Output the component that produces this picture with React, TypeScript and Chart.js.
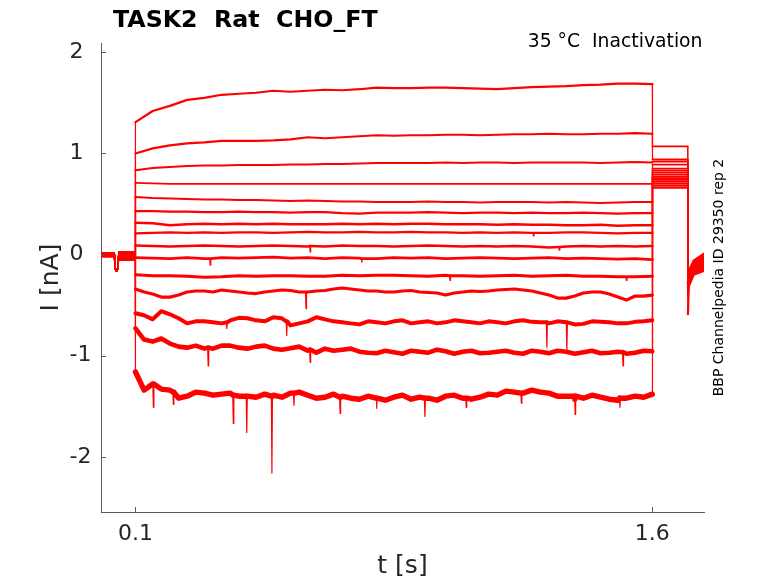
import { useEffect, useRef } from "react";
import { Chart, registerables } from "chart.js";

Chart.register(...registerables);

// ---------- data ----------
const xTickValues = [0.1, 1.6];
const yTickValues = [-2, -1, 0, 1, 2];

// holding period before the step (shared by all sweeps)
const preTimes = [0, 0.039, 0.041, 0.049, 0.051, 0.0995];
const preValues = [0.0, 0.0, -0.15, -0.15, -0.012, -0.012];
// visual thickness of the noise band in each holding segment
const preBand = [5, 1.5, 3, 1.5, 9.5];

// step period samples
const stepTimes = [0.10, 0.15, 0.20, 0.25, 0.30, 0.35, 0.40, 0.45, 0.50, 0.55, 0.60, 0.65, 0.70, 0.75, 0.80, 0.85, 0.90, 0.95, 1.00, 1.05, 1.10, 1.15, 1.20, 1.25, 1.30, 1.35, 1.40, 1.45, 1.50, 1.55, 1.60];
// extra in-between samples for the noisier sweeps
const midTimes = [0.125, 0.175, 0.225, 0.275, 0.325, 0.375, 0.425, 0.475, 0.525, 0.575, 0.625, 0.675, 0.725, 0.775, 0.825, 0.875, 0.925, 0.975, 1.025, 1.075, 1.125, 1.175, 1.225, 1.275, 1.325, 1.375, 1.425, 1.475, 1.525, 1.575];

const sweep01 = [1.31, 1.42, 1.47, 1.53, 1.55, 1.58, 1.59, 1.60, 1.62, 1.61, 1.62, 1.63, 1.625, 1.635, 1.65, 1.645, 1.645, 1.65, 1.65, 1.645, 1.64, 1.635, 1.645, 1.655, 1.66, 1.665, 1.675, 1.68, 1.69, 1.69, 1.685];
const sweep02 = [1.00, 1.05, 1.08, 1.10, 1.11, 1.125, 1.125, 1.125, 1.13, 1.14, 1.16, 1.15, 1.16, 1.17, 1.18, 1.175, 1.18, 1.18, 1.185, 1.185, 1.18, 1.185, 1.19, 1.19, 1.195, 1.19, 1.19, 1.195, 1.195, 1.20, 1.195];
const sweep03 = [0.835, 0.855, 0.865, 0.875, 0.88, 0.88, 0.885, 0.885, 0.885, 0.89, 0.89, 0.895, 0.895, 0.90, 0.905, 0.905, 0.905, 0.905, 0.91, 0.905, 0.91, 0.91, 0.905, 0.91, 0.91, 0.91, 0.91, 0.905, 0.91, 0.915, 0.91];
const sweep04 = [0.71, 0.705, 0.70, 0.70, 0.70, 0.70, 0.70, 0.70, 0.70, 0.70, 0.70, 0.70, 0.70, 0.70, 0.70, 0.70, 0.70, 0.70, 0.70, 0.70, 0.70, 0.70, 0.70, 0.70, 0.70, 0.70, 0.70, 0.70, 0.70, 0.70, 0.70];
const sweep05 = [0.57, 0.56, 0.555, 0.55, 0.545, 0.545, 0.54, 0.54, 0.535, 0.53, 0.535, 0.53, 0.525, 0.525, 0.52, 0.52, 0.52, 0.525, 0.52, 0.52, 0.515, 0.52, 0.52, 0.52, 0.515, 0.52, 0.515, 0.51, 0.515, 0.52, 0.52];
const sweep06 = [0.43, 0.43, 0.425, 0.425, 0.42, 0.42, 0.425, 0.42, 0.42, 0.415, 0.42, 0.42, 0.41, 0.405, 0.415, 0.415, 0.415, 0.42, 0.415, 0.41, 0.415, 0.415, 0.41, 0.415, 0.41, 0.41, 0.415, 0.41, 0.405, 0.41, 0.41];
const sweep07 = [0.315, 0.31, 0.29, 0.30, 0.305, 0.30, 0.305, 0.30, 0.305, 0.30, 0.30, 0.30, 0.305, 0.30, 0.305, 0.30, 0.305, 0.305, 0.30, 0.30, 0.30, 0.295, 0.30, 0.295, 0.295, 0.29, 0.29, 0.295, 0.285, 0.29, 0.29];
const sweep08 = [0.21, 0.215, 0.22, 0.215, 0.22, 0.215, 0.22, 0.22, 0.215, 0.22, 0.225, 0.22, 0.22, 0.225, 0.22, 0.22, 0.225, 0.22, 0.22, 0.215, 0.22, 0.215, 0.22, 0.215, 0.215, 0.22, 0.22, 0.215, 0.21, 0.215, 0.215];
const sweep09 = [0.09, 0.085, 0.08, 0.085, 0.09, 0.085, 0.08, 0.085, 0.09, 0.085, 0.08, 0.08, 0.09, 0.085, 0.085, 0.08, 0.085, 0.09, 0.085, 0.08, 0.085, 0.08, 0.085, 0.08, 0.07, 0.08, 0.085, 0.08, 0.085, 0.08, 0.085];
const sweep10 = [-0.03, -0.035, -0.04, -0.03, -0.04, -0.03, -0.035, -0.03, -0.025, -0.035, -0.03, -0.04, -0.03, -0.035, -0.04, -0.03, -0.035, -0.03, -0.04, -0.035, -0.03, -0.035, -0.04, -0.035, -0.03, -0.04, -0.035, -0.04, -0.045, -0.04, -0.05];
const sweep11 = [-0.20, -0.21, -0.21, -0.215, -0.225, -0.22, -0.21, -0.215, -0.21, -0.21, -0.215, -0.215, -0.205, -0.21, -0.205, -0.205, -0.21, -0.215, -0.205, -0.21, -0.215, -0.21, -0.205, -0.215, -0.21, -0.205, -0.215, -0.215, -0.22, -0.22, -0.215];
const sweep12 = [-0.34, -0.39, -0.42, -0.37, -0.36, -0.35, -0.37, -0.385, -0.36, -0.355, -0.37, -0.355, -0.33, -0.35, -0.36, -0.37, -0.355, -0.375, -0.40, -0.37, -0.365, -0.35, -0.34, -0.36, -0.40, -0.43, -0.38, -0.37, -0.42, -0.41, -0.40];
const sweep13 = [-0.58, -0.64, -0.59, -0.68, -0.66, -0.68, -0.625, -0.65, -0.62, -0.70, -0.66, -0.64, -0.67, -0.69, -0.67, -0.66, -0.68, -0.66, -0.67, -0.66, -0.68, -0.67, -0.66, -0.665, -0.68, -0.67, -0.685, -0.665, -0.68, -0.665, -0.65];
const sweep14 = [-0.73, -0.86, -0.88, -0.92, -0.93, -0.90, -0.92, -0.91, -0.93, -0.925, -0.95, -0.93, -0.94, -0.96, -0.975, -0.965, -0.95, -0.97, -0.955, -0.96, -0.975, -0.96, -0.97, -0.95, -0.975, -0.96, -0.965, -0.975, -0.96, -0.97, -0.955];
const sweep15 = [-1.16, -1.28, -1.34, -1.40, -1.37, -1.38, -1.40, -1.41, -1.39, -1.37, -1.39, -1.41, -1.40, -1.43, -1.42, -1.41, -1.43, -1.42, -1.40, -1.42, -1.41, -1.39, -1.36, -1.34, -1.37, -1.40, -1.42, -1.41, -1.44, -1.40, -1.38];

// in-between samples (at midTimes) for sweeps 12–15
const mid12 = [-0.37, -0.42, -0.40, -0.36, -0.37, -0.36, -0.38, -0.37, -0.35, -0.37, -0.36, -0.34, -0.34, -0.36, -0.37, -0.36, -0.37, -0.38, -0.38, -0.36, -0.36, -0.345, -0.35, -0.38, -0.43, -0.41, -0.37, -0.39, -0.45, -0.41];
const mid13 = [-0.60, -0.56, -0.63, -0.66, -0.67, -0.65, -0.63, -0.66, -0.63, -0.68, -0.62, -0.66, -0.68, -0.66, -0.68, -0.65, -0.67, -0.68, -0.65, -0.67, -0.66, -0.68, -0.65, -0.67, -0.66, -0.69, -0.66, -0.67, -0.68, -0.66];
const mid14 = [-0.84, -0.83, -0.91, -0.90, -0.93, -0.90, -0.93, -0.90, -0.94, -0.91, -0.97, -0.95, -0.93, -0.97, -0.95, -0.98, -0.96, -0.94, -0.98, -0.95, -0.97, -0.95, -0.98, -0.96, -0.95, -0.98, -0.95, -0.97, -0.98, -0.95];
const mid15 = [-1.34, -1.33, -1.42, -1.36, -1.39, -1.37, -1.40, -1.38, -1.41, -1.36, -1.42, -1.38, -1.42, -1.40, -1.44, -1.39, -1.41, -1.44, -1.39, -1.43, -1.38, -1.35, -1.37, -1.36, -1.40, -1.43, -1.39, -1.43, -1.42, -1.41];

// brief downward spikes: [time, surrounding level, tip]
const spikes08 = [[1.255, 0.215, 0.185]];
const spikes09 = [[0.607, 0.085, 0.025], [1.33, 0.075, 0.045]];
const spikes10 = [[0.317, -0.04, -0.105], [0.757, -0.04, -0.075]];
const spikes11 = [[1.013, -0.21, -0.255], [1.525, -0.22, -0.255]];
const spikes12 = [[0.595, -0.37, -0.535]];
const spikes13 = [[0.365, -0.67, -0.73], [0.539, -0.66, -0.80], [1.294, -0.67, -0.915], [1.352, -0.67, -0.95]];
const spikes14 = [[0.311, -0.92, -1.10], [0.607, -0.94, -1.065], [1.515, -0.965, -1.10]];
const spikes15 = [[0.152, -1.28, -1.51], [0.21, -1.36, -1.48], [0.384, -1.39, -1.67], [0.423, -1.40, -1.76], [0.496, -1.40, -2.16], [0.56, -1.37, -1.49], [0.694, -1.41, -1.57], [0.80, -1.42, -1.52], [0.94, -1.42, -1.60], [1.06, -1.42, -1.51], [1.22, -1.37, -1.47], [1.376, -1.40, -1.58], [1.506, -1.42, -1.51]];

// test pulse after the step
const tailTimes = [1.6005, 1.7025];
const tailLevels = [1.07, 0.94, 0.92, 0.89, 0.85, 0.83, 0.81, 0.79, 0.77, 0.755, 0.74, 0.72, 0.70, 0.68, 0.66];

// return to holding
const postTimes = [1.7035, 1.706, 1.72, 1.75];
const postSpike = [-0.59, -0.40, -0.36, -0.34, -0.33, -0.32, -0.31, -0.30, -0.30, -0.29, -0.29, -0.28, -0.28, -0.27, -0.27];
const postEarly = [-0.25, -0.22, -0.24, -0.20, -0.26, -0.18, -0.28, -0.22, -0.30, -0.16, -0.27, -0.20, -0.31, -0.19, -0.28];
const postMid = [-0.12, -0.10, -0.14, -0.10, -0.15, -0.08, -0.17, -0.12, -0.18, -0.06, -0.16, -0.11, -0.20, -0.09, -0.15];
const postLate = [-0.05, -0.03, -0.08, -0.02, -0.10, 0.0, -0.12, -0.06, -0.14, 0.01, -0.09, -0.04, -0.16, -0.02, -0.08];

const sweeps = [sweep01, sweep02, sweep03, sweep04, sweep05, sweep06, sweep07, sweep08, sweep09, sweep10, sweep11, sweep12, sweep13, sweep14, sweep15];
const midLists: (number[] | null)[] = [null, null, null, null, null, null, null, null, null, null, null, mid12, mid13, mid14, mid15];
const spikeLists: number[][][] = [[], [], [], [], [], [], [], spikes08, spikes09, spikes10, spikes11, spikes12, spikes13, spikes14, spikes15];

// ---------- styling ----------
const FONT = "'DejaVu Sans', sans-serif";
const AXIS = "#5a5a5a";
const TEXT = "#262626";
const RED = "#ff0000";
// apparent thickness of each sweep's noisy trace during the step
const noiseWidths = [2.2, 2.2, 2.0, 1.8, 2.0, 2.2, 2.4, 2.4, 2.6, 2.8, 3.0, 3.2, 4.0, 4.6, 5.4];

type Pt = { x: number; y: number; s?: boolean; seg?: string; pb?: number };

function buildSweep(i: number): Pt[] {
  const pts: Pt[] = preTimes.map((t, k) => ({ x: t, y: preValues[k], seg: "pre", pb: preBand[k] }));
  const step: Pt[] = stepTimes.map((t, k) => ({ x: t, y: sweeps[i][k], seg: "step" }));
  const mids = midLists[i];
  if (mids) midTimes.forEach((t, k) => step.push({ x: t, y: mids[k], seg: "step" }));
  for (const [t, base, tip] of spikeLists[i]) {
    step.push({ x: t - 0.0015, y: base, seg: "step" });
    step.push({ x: t, y: tip, s: true, seg: "step" });
    step.push({ x: t + 0.0015, y: base, seg: "step" });
  }
  step.sort((a, b) => a.x - b.x);
  pts.push(...step);
  tailTimes.forEach((t) => pts.push({ x: t, y: tailLevels[i], seg: "tail" }));
  const post = [postSpike[i], postEarly[i], postMid[i], postLate[i]];
  postTimes.forEach((t, k) => pts.push({ x: t, y: post[k], seg: "post" }));
  return pts;
}

const decorPlugin = {
  id: "decor",
  afterDraw(chart: any) {
    const { ctx, chartArea, scales } = chart;
    ctx.save();
    ctx.strokeStyle = AXIS;
    ctx.lineWidth = 1;
    ctx.beginPath();
    yTickValues.forEach((v) => {
      const py = Math.round(scales.y.getPixelForValue(v)) + 0.5;
      ctx.moveTo(chartArea.left, py);
      ctx.lineTo(chartArea.left + 5, py);
    });
    xTickValues.forEach((v) => {
      const px = Math.round(scales.x.getPixelForValue(v)) + 0.5;
      ctx.moveTo(px, chartArea.bottom);
      ctx.lineTo(px, chartArea.bottom - 5);
    });
    ctx.stroke();

    ctx.textBaseline = "alphabetic";
    // main title
    ctx.fillStyle = "#000";
    ctx.font = `bold 23.7px ${FONT}`;
    ctx.textAlign = "left";
    ctx.fillText("TASK2  Rat  CHO_FT", 113, 26.7);
    // condition text
    ctx.font = `18.8px ${FONT}`;
    ctx.textAlign = "right";
    ctx.fillText("35 °C  Inactivation", 702.5, 47.3);
    // y axis title
    ctx.save();
    ctx.fillStyle = TEXT;
    ctx.translate(58.3, 277.5);
    ctx.rotate(-Math.PI / 2);
    ctx.font = `25px ${FONT}`;
    ctx.textAlign = "center";
    ctx.fillText("I [nA]", 0, 0);
    ctx.restore();
    // side label
    ctx.save();
    ctx.fillStyle = "#000";
    ctx.translate(723, 277.5);
    ctx.rotate(-Math.PI / 2);
    ctx.font = `14px ${FONT}`;
    ctx.textAlign = "center";
    ctx.fillText("BBP Channelpedia ID 29350 rep 2", 0, 0);
    ctx.restore();
    ctx.restore();
  },
};

export default function App() {
  const ref = useRef<HTMLCanvasElement>(null);
  useEffect(() => {
    if (!ref.current) return;
    const datasets = sweeps.map((_, i) => {
      const data = buildSweep(i);
      const w = noiseWidths[i];
      return {
        data,
        borderColor: RED,
        borderWidth: 1.2,
        borderJoinStyle: "round",
        borderCapStyle: "round",
        pointRadius: 0,
        tension: 0,
        fill: false,
        segment: {
          borderWidth: (c: any) => {
            const a = data[c.p0DataIndex];
            const b = data[c.p1DataIndex];
            if (!a || !b) return 1.2;
            if (a.seg === "pre" && b.seg === "pre") return a.pb || 1.2;
            if (a.s || b.s) return 1.2;
            if (a.seg === "step" && b.seg === "step") return w;
            if (a.seg === "tail" && b.seg === "tail") return 1.8;
            if (a.seg === "post" && b.seg === "post") return 2.2;
            return 1.2;
          },
          borderCapStyle: (c: any) => {
            const a = data[c.p0DataIndex];
            const b = data[c.p1DataIndex];
            if (a && b && a.seg === "pre" && b.seg === "pre") return "butt";
            return "round";
          },
        },
      };
    });
    const chart = new Chart(ref.current, {
      type: "line",
      data: { datasets } as any,
      plugins: [decorPlugin],
      options: {
        animation: false,
        responsive: false,
        events: [],
        layout: { padding: { left: 69.5, right: 74, top: 43, bottom: 0 } },
        plugins: { legend: { display: false }, tooltip: { enabled: false }, title: { display: false } },
        scales: {
          x: {
            type: "linear",
            min: 0,
            max: 1.75,
            grid: { display: false, drawTicks: false },
            border: { display: true, color: AXIS, width: 1 },
            afterBuildTicks: (s: any) => {
              s.ticks = xTickValues.map((v) => ({ value: v }));
            },
            afterFit: (s: any) => {
              s.height = 71;
            },
            ticks: {
              padding: 9,
              color: TEXT,
              font: { family: FONT, size: 22 },
              maxRotation: 0,
              autoSkip: false,
              callback: (v: any) => Number(v).toFixed(1),
            },
            title: {
              display: true,
              text: "t [s]",
              color: TEXT,
              font: { family: FONT, size: 25 },
              padding: { top: 0, bottom: 2 },
            },
          },
          y: {
            type: "linear",
            min: -2.545,
            max: 2.092,
            grid: { display: false, drawTicks: false },
            border: { display: true, color: AXIS, width: 1 },
            afterBuildTicks: (s: any) => {
              s.ticks = yTickValues.map((v) => ({ value: v }));
            },
            afterFit: (s: any) => {
              s.width = 31.5;
            },
            ticks: {
              crossAlign: "far",
              color: TEXT,
              font: { family: FONT, size: 22 },
              autoSkip: false,
              callback: (v: any) => String(v),
            },
          },
        },
      } as any,
    });
    return () => chart.destroy();
  }, []);
  return (
    <canvas
      ref={ref}
      width={778}
      height={583}
      style={{ position: "absolute", left: 0, top: 0, display: "block", width: "778px", height: "583px" }}
    />
  );
}
